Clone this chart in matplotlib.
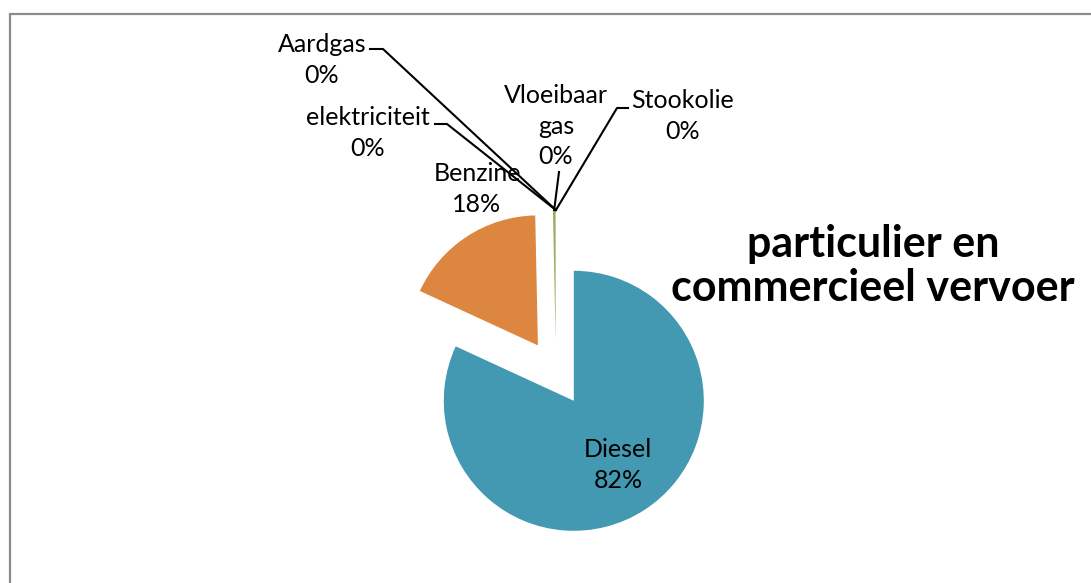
import matplotlib
matplotlib.use("Agg")
import matplotlib.pyplot as plt
import numpy as np

# data
categories = ["Diesel", "Benzine", "Vloeibaar gas", "elektriciteit", "Aardgas", "Stookolie"]
shares = [81.9, 17.8, 0.3, 0.01, 0.01, 0.01]
pct_labels = ["82%", "18%", "0%", "0%", "0%", "0%"]
colors = ["#4399b1", "#dd8640", "#8fb34f", "#8064a2", "#4bacc6", "#c0504d"]

W, H = 1091, 583


def Y(y):
    # screen y (from top) -> axes y (from bottom)
    return H - y


plt.rcParams["font.family"] = ["Lato", "DejaVu Sans"]

fig = plt.figure(figsize=(W / 100, H / 100), dpi=100)
ax = fig.add_axes([0, 0, 1, 1])

# explode is in data units (pixels here)
wedges, _ = ax.pie(shares, explode=[33] * len(shares), startangle=90,
                   counterclock=False, colors=colors, radius=130,
                   center=(556, Y(373)), wedgeprops=dict(linewidth=0))
ax.set_xlim(0, W)
ax.set_ylim(0, H)
ax.set_aspect("equal")
ax.axis("off")

# chart frame (only top and left edges are in view)
ax.plot([10, 10, W + 5], [-5, Y(14), Y(14)], color="#8c8c8c", lw=1.6,
        solid_joinstyle="miter", clip_on=False)

# label positions (screen coords) and leader elbows
label_pos = {
    "Diesel": (618, 465),
    "Benzine": (477, 189),
    "Vloeibaar gas": (556, 126),
    "elektriciteit": (368, 133),
    "Aardgas": (322, 60),
    "Stookolie": (683, 116),
}
leaders = {
    "Aardgas": [(370, 49), (383, 49)],
    "elektriciteit": [(435, 124), (447, 124)],
    "Vloeibaar gas": [(559, 172)],
    "Stookolie": [(628, 108), (617, 108)],
}

for w, name, pct in zip(wedges, categories, pct_labels):
    x, y = label_pos[name]
    txt = name.replace(" ", "\n") + "\n" + pct
    ax.text(x, Y(y), txt, ha="center", va="center", fontsize=18,
            linespacing=1.38, color="black")
    if name in leaders:
        mid = np.deg2rad((w.theta1 + w.theta2) / 2)
        tip = (w.center[0] + w.r * np.cos(mid), w.center[1] + w.r * np.sin(mid))
        pts = [(px, Y(py)) for px, py in leaders[name]] + [tip]
        ax.plot([p[0] for p in pts], [p[1] for p in pts], color="black", lw=1.5)

ax.text(873, Y(266), "particulier en\ncommercieel vervoer", ha="center",
        va="center", fontsize=31, fontweight="bold", linespacing=1.15)

fig.savefig("out.png", dpi=100)
